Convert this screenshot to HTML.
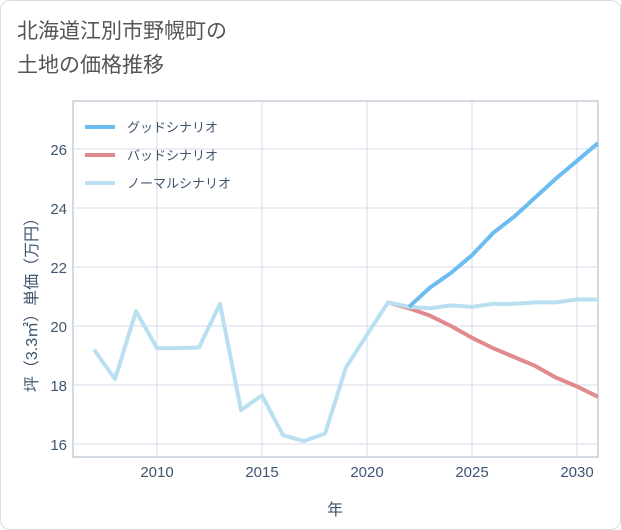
<!DOCTYPE html>
<html><head><meta charset="utf-8"><style>
body{margin:0;background:#fff;font-family:"Liberation Sans","Noto Sans CJK JP",sans-serif}
#wrap{position:relative;width:619px;height:528px;border:1px solid #ddd;border-radius:10px;overflow:hidden}
#title{position:absolute;left:16px;top:14px;font-size:21px;line-height:34px;color:#555}
svg{position:absolute;left:0;top:0}
</style></head><body>
<div id="wrap">
<div id="title">北海道江別市野幌町の<br>土地の価格推移</div>
<svg id="chart" width="621" height="530"></svg>
</div>
<script>
const normalYears=[2007,2008,2009,2010,2011,2012,2013,2014,2015,2016,2017,2018,2019,2020,2021,2022,2023,2024,2025,2026,2027,2028,2029,2030,2031];
const normalValues=[19.2,18.2,20.5,19.25,19.25,19.27,20.75,17.15,17.65,16.3,16.1,16.35,18.6,19.7,20.8,20.65,20.6,20.7,20.65,20.75,20.75,20.8,20.8,20.9,20.9];
const goodYears=[2022,2023,2024,2025,2026,2027,2028,2029,2030,2031];
const goodValues=[20.65,21.3,21.8,22.4,23.15,23.7,24.35,25.0,25.6,26.2];
const badYears=[2021,2022,2023,2024,2025,2026,2027,2028,2029,2030,2031];
const badValues=[20.8,20.6,20.35,20.0,19.6,19.25,18.95,18.65,18.25,17.95,17.6];
const xTicks=[2010,2015,2020,2025,2030];
const yTicks=[16,18,20,22,24,26];
const legendLabels=["グッドシナリオ","バッドシナリオ","ノーマルシナリオ"];
const legendColors=["#6bbcf0","#e08a8e","#b9e0f0"];

const svg=document.getElementById('chart');
const NS='http://www.w3.org/2000/svg';
const L=72,R=597,T=100,B=456;
const x=v=>156+(v-2010)*21;
const y=v=>443-(v-16)*29.5;
function mk(t,a){const e=document.createElementNS(NS,t);for(const k in a)e.setAttribute(k,a[k]);svg.appendChild(e);return e;}
const bg=mk('rect',{x:L,y:T,width:R-L,height:B-T,fill:'#fff',stroke:'#aab4c4','stroke-width':1});


xTicks.forEach(t=>{
 const g=mk('line',{x1:x(t),x2:x(t),y1:T,y2:B,stroke:'#d5dde8'});
 
 
 const s=mk('text',{x:x(t),y:B+20,'text-anchor':'middle','font-size':15,fill:'#3f5570'});s.textContent=t;
 
 
});
yTicks.forEach(t=>{
 const g=mk('line',{x1:L,x2:R,y1:y(t),y2:y(t),stroke:'#d5dde8'});
 
 
 const s=mk('text',{x:L-6,y:y(t)+6,'text-anchor':'end','font-size':15,fill:'#3f5570'});s.textContent=t;
 
 
});
const xt=mk('text',{x:334,y:514,'text-anchor':'middle','font-size':16,fill:'#3f5570'});xt.textContent='年';


const yt=mk('text',{x:0,y:0,'text-anchor':'middle','font-size':16,fill:'#3f5570',transform:'translate(36,300) rotate(-90)'});yt.textContent='坪（3.3㎡）単価（万円）';


const clip=mk('clipPath',{id:'c'});const cr=document.createElementNS(NS,'rect');
cr.setAttribute('x',L);cr.setAttribute('y',T);cr.setAttribute('width',R-L);cr.setAttribute('height',B-T);clip.appendChild(cr);
function series(xs,vs,col,name){
 const p=mk('polyline',{points:xs.map((v,i)=>x(v)+','+y(vs[i])).join(' '),fill:'none',stroke:col,'stroke-width':4,'stroke-linejoin':'round','clip-path':'url(#c)'});
 
 
}
series(badYears,badValues,legendColors[1],'bad-scenario-line');
series(normalYears,normalValues,legendColors[2],'normal-scenario-line');
series(goodYears,goodValues,legendColors[0],'good-scenario-line');
legendLabels.forEach((lab,i)=>{
 const yy=126+i*28;
 const l=mk('line',{x1:84,x2:114,y1:yy,y2:yy,stroke:legendColors[i],'stroke-width':4});
 
 
 const t=mk('text',{x:126,y:yy+5,'font-size':13,fill:'#3f5570'});t.textContent=lab;
 
 
});
</script>
</body></html>
